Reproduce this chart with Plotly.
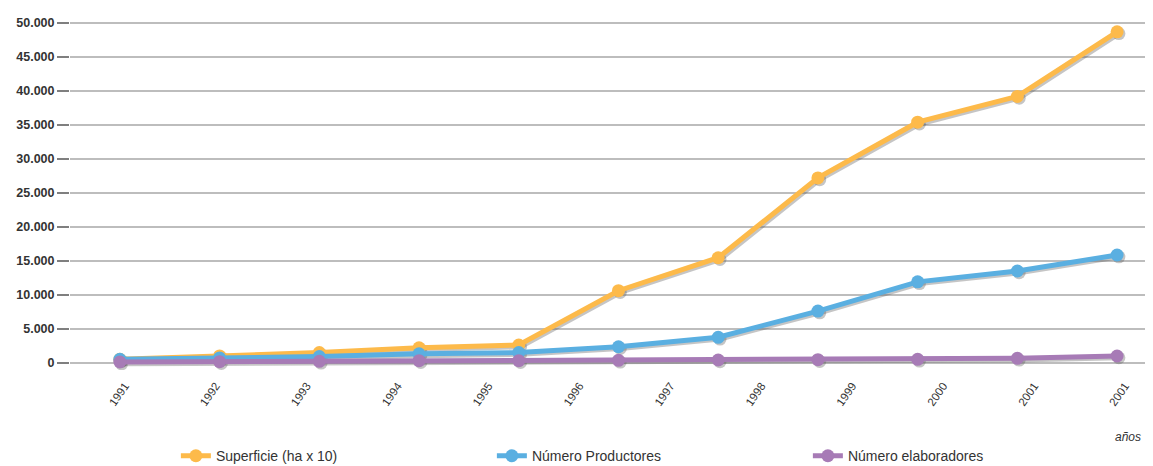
import plotly.graph_objects as go

years = ["1991", "1992", "1993", "1994", "1995", "1996", "1997", "1998", "1999", "2000", "2001"]
tick_labels = ["1991", "1992", "1993", "1994", "1995", "1996", "1997", "1998", "1999", "2000", "2001", "2001"]
superficie = [500, 1000, 1500, 2200, 2600, 10600, 15450, 27200, 35400, 39200, 48700]
productores = [500, 700, 900, 1300, 1500, 2350, 3740, 7600, 11900, 13500, 15850]
elaboradores = [100, 150, 200, 300, 300, 350, 400, 450, 500, 650, 990]

series = [
    ("Superficie (ha x 10)", superficie, "#FDBA4A"),
    ("Número Productores", productores, "#5AAFE1"),
    ("Número elaboradores", elaboradores, "#A77BB6"),
]

xs = list(range(len(years)))
n_lab = len(tick_labels)
tickvals = [0.05 + i * (len(years) - 1 + 0.03) / (n_lab - 1) for i in range(n_lab)]

fig = go.Figure()

# soft shadows on the base (offset, hidden) axes
for name, vals, col in series:
    fig.add_trace(go.Scatter(
        x=xs, y=vals, mode="lines+markers",
        line=dict(color="rgba(90,90,90,0.35)", width=5),
        marker=dict(size=13, color="rgba(90,90,90,0.35)"),
        showlegend=False, hoverinfo="skip"))

# main series on the visible overlay axes
for name, vals, col in series:
    fig.add_trace(go.Scatter(
        x=xs, y=vals, name=name, xaxis="x2", yaxis="y2", mode="lines+markers",
        line=dict(color=col, width=5),
        marker=dict(size=13, color=col)))

xr = [-0.5, 10.33]
yr = [-1074, 51178]
dx, dy = 0.018, 260

fig.update_layout(
    width=1153, height=466,
    margin=dict(l=62, r=11, t=7, b=104),
    paper_bgcolor="white", plot_bgcolor="white",
    separators=",.",
    font=dict(family="Liberation Sans, Arial, sans-serif", color="#333333"),
    xaxis=dict(range=[xr[0] - dx, xr[1] - dx], visible=False, automargin=False),
    yaxis=dict(range=[yr[0] + dy, yr[1] + dy], visible=False, automargin=False),
    xaxis2=dict(range=xr, overlaying="x", anchor="y2", tickmode="array", tickvals=tickvals,
                ticktext=tick_labels, tickangle=-55, showgrid=False, zeroline=False,
                showline=False, ticks="", automargin=False, ticklabelstandoff=6,
                tickfont=dict(family="Liberation Sans, Arial", size=11.5, color="#333333")),
    yaxis2=dict(range=yr, overlaying="y", anchor="x2", side="left", tickmode="linear",
                tick0=0, dtick=5000, tickformat=",d",
                showgrid=True, gridcolor="#BDBDBD", gridwidth=1.5, zeroline=False,
                ticks="outside", ticklen=12, tickwidth=2, tickcolor="#7F7F7F",
                automargin=False, showline=False,
                tickfont=dict(family="Liberation Sans, Arial", size=12.5, color="#333333",
                              weight="bold")),
    legend=dict(orientation="h", xref="container", yref="container",
                x=0.1456, xanchor="left", y=0.004, yanchor="bottom",
                entrywidth=271, entrywidthmode="pixels", traceorder="normal",
                font=dict(family="Liberation Sans, Arial", size=14, color="#333333")),
    annotations=[dict(text="<i>años</i>", xref="paper", yref="paper", x=0.9935, y=-0.19,
                      xanchor="right", yanchor="middle", showarrow=False,
                      font=dict(family="Liberation Sans, Arial", size=12, color="#333333"))],
)

fig.write_html("out.html")
